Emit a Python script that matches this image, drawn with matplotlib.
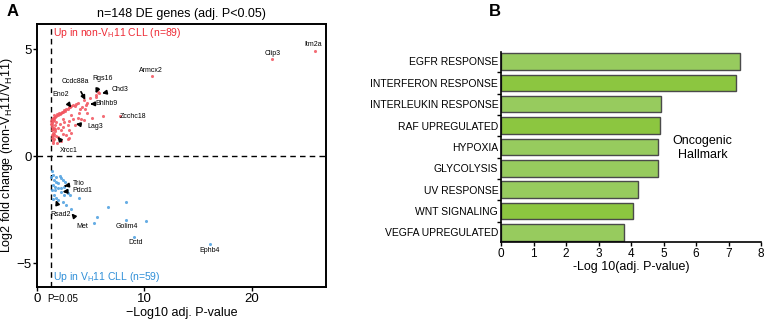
import matplotlib
matplotlib.use("Agg")
import matplotlib.pyplot as plt
from matplotlib.ticker import FixedLocator

plt.rcParams['font.family'] = ['Liberation Sans', 'DejaVu Sans']

# ---------------- Panel A data (volcano) ----------------
up_x = [1.35, 1.42, 1.50, 1.60, 1.70, 1.80, 1.95, 2.10, 2.25, 2.40, 2.55, 2.70, 2.85, 3.00,
        3.20, 3.40, 3.60, 3.80, 1.40, 1.45, 1.55,
        1.35, 1.40, 1.38, 1.45, 1.40, 1.50, 1.42, 1.55, 1.48, 1.60, 1.65, 1.70, 1.55, 1.75,
        2.10, 2.40, 2.55, 2.85, 3.00, 3.20, 2.70, 2.25, 1.95, 3.50, 3.80, 4.10, 4.40, 4.70,
        4.55, 4.70, 4.40, 4.90, 5.50, 5.65, 5.80, 5.50, 2.90, 2.40, 3.35, 3.95, 3.20, 3.00,
        5.15, 6.10, 7.72, 10.74, 21.90, 25.90, 4.50, 4.20, 2.00, 1.80, 2.20, 1.90,
        1.62, 1.85, 2.05, 2.30, 2.60, 3.10, 1.38, 1.47, 1.52, 2.95, 3.55, 4.05, 1.68, 2.45]
up_y = [1.65, 1.72, 1.76, 1.80, 1.84, 1.88, 1.93, 1.98, 2.03, 2.08, 2.13, 2.18, 2.22, 2.27,
        2.32, 2.38, 2.45, 2.50, 1.55, 1.62, 1.68,
        1.50, 1.35, 1.20, 1.10, 1.00, 0.95, 0.85, 0.78, 0.70, 1.30, 1.45, 1.15, 1.05, 0.95,
        1.50, 1.37, 1.60, 1.45, 1.20, 1.10, 1.00, 1.20, 0.90, 1.45, 1.80, 1.75, 1.70, 2.00,
        2.40, 2.50, 2.60, 2.70, 2.85, 3.00, 2.95, 2.75, 0.82, 1.75, 1.75, 2.00, 1.90, 0.85,
        1.76, 1.87, 1.87, 3.75, 4.52, 4.92, 2.20, 2.30, 1.30, 1.60, 0.70, 0.60,
        1.90, 1.96, 2.01, 2.06, 2.11, 2.29, 1.45, 1.28, 0.60, 1.62, 2.35, 2.20, 1.25, 1.05]

dn_x = [1.39, 1.48, 1.79, 2.10, 2.25, 2.41, 1.57, 1.79, 2.00, 1.48, 1.70, 1.94, 2.25, 2.56,
        2.81, 3.03, 1.57, 1.79, 2.00, 2.41, 2.72, 3.18, 3.95, 2.87, 1.64, 2.50,
        6.57, 8.27, 5.58, 5.28, 8.27, 9.04, 10.19, 16.10,
        1.35, 1.40, 1.45, 2.60, 2.20]
dn_y = [-0.70, -0.89, -0.97, -0.92, -1.01, -1.12, -1.12, -1.20, -1.28, -1.36, -1.43, -1.51,
        -1.51, -1.43, -1.59, -1.82, -1.82, -1.98, -2.06, -2.13, -2.29, -2.45, -1.95, -1.74,
        -1.59, -1.82,
        -2.40, -2.16, -2.83, -3.15, -2.99, -3.77, -3.04, -4.11,
        -1.00, -1.60, -2.00, -1.20, -1.70]

# gene labels: name, text x, text y, arrow tip x, arrow tip y (None = no arrow)
up_labels = [
    ("Ccdc88a", 3.61, 3.47, 4.50, 2.62),
    ("Rgs16", 6.08, 3.64, 5.46, 2.93),
    ("Chd3", 7.78, 3.12, 6.05, 2.93),
    ("Eno2", 2.22, 2.88, 3.20, 2.27),
    ("Bhlhb9", 6.50, 2.46, 4.95, 2.43),
    ("Lag3", 5.46, 1.37, 3.61, 1.50),
    ("Xrcc1", 3.00, 0.25, 1.91, 0.90),
    ("Armcx2", 10.56, 4.02, None, None),
    ("Zcchc18", 8.90, 1.85, None, None),
    ("Clip3", 21.9, 4.80, None, None),
    ("Itm2a", 25.7, 5.20, None, None),
]
dn_labels = [
    ("Trio", 3.86, -1.28, 2.53, -1.40),
    ("Pdcd1", 4.23, -1.59, 2.38, -1.67),
    ("Rsad2", 2.22, -2.71, 1.76, -2.06),
    ("Met", 4.23, -3.27, 3.21, -2.68),
    ("Golim4", 8.40, -3.30, None, None),
    ("Dctd", 9.17, -4.05, None, None),
    ("Ephb4", 16.1, -4.39, None, None),
]

# ---------------- Panel B data (bars) ----------------
hallmarks = ["EGFR RESPONSE", "INTERFERON RESPONSE", "INTERLEUKIN RESPONSE",
             "RAF UPREGULATED", "HYPOXIA", "GLYCOLYSIS", "UV RESPONSE",
             "WNT SIGNALING", "VEGFA UPREGULATED"]
neglog_p = [7.35, 7.23, 4.92, 4.88, 4.84, 4.84, 4.22, 4.06, 3.77]
bar_shade = ["#97CB5E", "#8CC640", "#97CB5E", "#8CC640", "#97CB5E", "#97CB5E",
             "#97CB5E", "#8CC640", "#97CB5E"]

fig = plt.figure(figsize=(7.67, 3.24), dpi=100)

# ---------------- Panel A ----------------
axA = fig.add_axes([0.0482, 0.114, 0.3768, 0.812])
red = "#F2545E"
blue = "#4C9FE0"
axA.scatter(up_x, up_y, s=5, color=red, alpha=0.85, linewidths=0, zorder=3)
axA.scatter(dn_x, dn_y, s=5, color=blue, alpha=0.85, linewidths=0, zorder=3)
axA.axhline(0, color='k', ls=(0, (4, 3)), lw=1.0, zorder=1)
axA.axvline(1.3, color='k', ls=(0, (4, 3)), lw=1.0, zorder=1)
axA.set_xlim(0, 26.9)
axA.set_ylim(-6.12, 6.17)
axA.set_xticks([0, 10, 20])
axA.set_yticks([-5, 0, 5])
axA.set_yticklabels(["\u22125", "0", "5"])
axA.tick_params(labelsize=9.5, length=3, width=1, pad=1)
for s in axA.spines.values():
    s.set_linewidth(1.4)

for name, tx, ty, ax_, ay_ in up_labels + dn_labels:
    if ax_ is None:
        axA.text(tx, ty, name, fontsize=5, ha='center', va='center', zorder=4)
    else:
        axA.annotate(name, xy=(ax_, ay_), xytext=(tx, ty), fontsize=5,
                     ha='center', va='center', zorder=4,
                     arrowprops=dict(arrowstyle='-|>', color='k', lw=1.2,
                                     mutation_scale=6, shrinkA=3, shrinkB=0))

axA.text(1.5, 5.75, "Up in non-V$_\\mathregular{H}$11 CLL (n=89)", color="#EE2A35",
         fontsize=7.5, ha='left', va='center')
axA.text(1.5, -5.65, "Up in V$_\\mathregular{H}$11 CLL (n=59)", color="#2F8FD8",
         fontsize=7.5, ha='left', va='center')
axA.set_title("n=148 DE genes (adj. P<0.05)", fontsize=9, pad=5)
axA.set_xlabel("\u2212Log10 adj. P-value", fontsize=9, labelpad=2)
axA.set_ylabel("Log2 fold change (non-V$_\\mathregular{H}$11/V$_\\mathregular{H}$11)",
               fontsize=9, labelpad=1)
axA.text(1.0, -6.45, "P=0.05", fontsize=7, ha='left', va='top')

# ---------------- Panel B ----------------
axB = fig.add_axes([0.6532, 0.253, 0.3390, 0.587])
ypos = list(range(len(hallmarks)))
axB.barh(ypos, neglog_p, height=0.77, color=bar_shade, edgecolor="#4A4A4A",
         linewidth=1.0, zorder=2)
axB.set_ylim(8.45, -0.45)
axB.set_xlim(0, 8)
axB.set_xticks(range(0, 9))
axB.set_yticks(ypos)
axB.set_yticklabels(hallmarks, fontsize=7.5)
axB.tick_params(axis='y', length=0, pad=2)
axB.yaxis.set_minor_locator(FixedLocator([i - 0.5 for i in range(len(hallmarks) + 1)]))
axB.tick_params(axis='y', which='minor', length=3, width=1)
axB.tick_params(axis='x', labelsize=8.5, length=3, width=1, pad=1)
axB.spines['top'].set_visible(False)
axB.spines['right'].set_visible(False)
axB.spines['left'].set_linewidth(1.2)
axB.spines['bottom'].set_linewidth(1.2)
axB.set_xlabel("-Log 10(adj. P-value)", fontsize=9, labelpad=1)
axB.text(6.2, 4.05, "Oncogenic\nHallmark", fontsize=9, ha='center', va='center')

fig.text(0.008, 0.965, "A", fontsize=12, fontweight='bold', ha='left', va='center')
fig.text(0.638, 0.965, "B", fontsize=12, fontweight='bold', ha='left', va='center')

fig.savefig("out.png", dpi=100)
